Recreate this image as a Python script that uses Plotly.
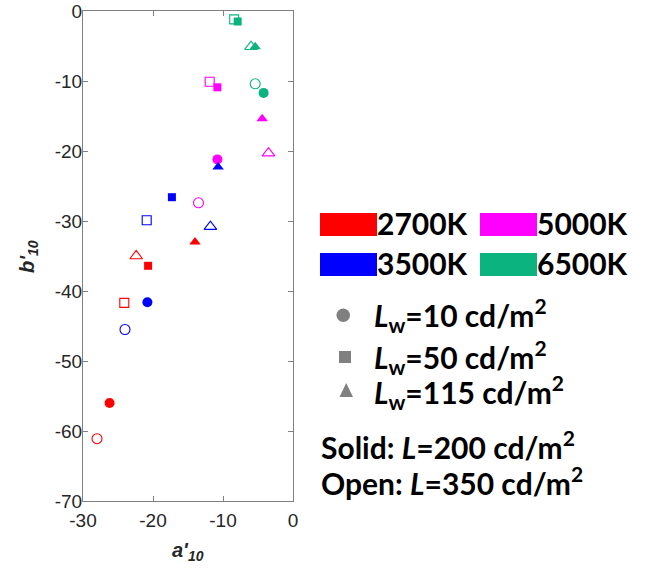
import plotly.graph_objects as go

# ---------------- data ----------------
cct_labels = ["2700K", "3500K", "5000K", "6500K"]
cct_colors = ["#ff0000", "#0000ff", "#ff00ff", "#0bb37f"]

# Solid markers: L = 200 cd/m2
solid_circle_a = [-26.2, -20.8, -10.8, -4.2]
solid_circle_b = [-56.0, -41.6, -21.2, -11.7]
solid_square_a = [-20.7, -17.3, -10.8, -7.9]
solid_square_b = [-36.4, -26.6, -10.9, -1.5]
solid_tri_a = [-14.0, -10.7, -4.4, -5.4]
solid_tri_b = [-33.0, -22.3, -15.4, -5.1]

# Open markers: L = 350 cd/m2
open_circle_a = [-28.0, -24.0, -13.5, -5.4]
open_circle_b = [-61.1, -45.5, -27.4, -10.4]
open_square_a = [-24.1, -20.9, -11.9, -8.4]
open_square_b = [-41.7, -29.9, -10.1, -1.2]
open_tri_a = [-22.4, -11.8, -3.5, -6.0]
open_tri_b = [-35.0, -30.8, -20.3, -5.1]

x_ticks = [-30, -20, -10, 0]
x_tick_text = ["-30", "-20", "-10", "0"]
y_ticks = [0, -10, -20, -30, -40, -50, -60, -70]
y_tick_text = ["0", "-10", "-20", "-30", "-40", "-50", "-60", "-70"]

lw_labels = ["10", "50", "115"]
lum_labels = ["Solid: <i>L</i>=200 cd/m<sup>2</sup>", "Open: <i>L</i>=350 cd/m<sup>2</sup>"]

# ---------------- figure ----------------
W, H = 645, 571
ML, MR, MT, MB = 83, 10, 11, 70
PW, PH = W - ML - MR, H - MT - MB

def px(x):
    return (x - ML) / PW

def py(y):
    return (MT + PH - y) / PH

fig = go.Figure()

series = [
    (solid_circle_a, solid_circle_b, "circle", 10, True),
    (solid_square_a, solid_square_b, "square", 8, True),
    (solid_tri_a, solid_tri_b, "triangle-up", 10, True),
    (open_circle_a, open_circle_b, "circle-open", 10, False),
    (open_square_a, open_square_b, "square-open", 9, False),
    (open_tri_a, open_tri_b, "triangle-up-open", 11, False),
]
for xa, yb, sym, size, solid in series:
    fig.add_trace(go.Scatter(
        x=xa, y=yb, mode="markers", showlegend=False,
        marker=dict(symbol=sym, size=size, color=cct_colors,
                    line=dict(width=0 if solid else 1.1, color=cct_colors)),
    ))

axis_common = dict(
    showgrid=False, zeroline=False, showline=True, linecolor="#808080", linewidth=1,
    mirror="ticks", ticks="inside", ticklen=5, tickcolor="#808080", automargin=False,
    tickfont=dict(family="Liberation Sans, Arial, sans-serif", size=19, color="#262626"),
)
fig.update_xaxes(range=[-30, 0], tickvals=x_ticks, ticktext=x_tick_text,
                 domain=[0, 210 / PW], ticklabelstandoff=2, **axis_common)
fig.update_yaxes(range=[-70, 0], tickvals=y_ticks, ticktext=y_tick_text,
                 ticklabelstandoff=-4, **axis_common)

shapes = []
annotations = []

# axis titles
annotations.append(dict(
    xref="paper", yref="paper", x=px(188), y=py(551), showarrow=False,
    text="<b><i>a'</i><sub><i>10</i></sub></b>",
    font=dict(family="Liberation Sans, Arial, sans-serif", size=20, color="#262626"),
    xanchor="center", yanchor="middle"))
annotations.append(dict(
    xref="paper", yref="paper", x=px(28), y=py(257), showarrow=False, textangle=-90,
    text="<b><i>b'</i><sub><i>10</i></sub></b>",
    font=dict(family="Liberation Sans, Arial, sans-serif", size=20, color="#262626"),
    xanchor="center", yanchor="middle"))

# colour legend (2 x 2)
legend_font = "Lato, Calibri, sans-serif"
rect_pos = [(320, 213), (320, 253), (480, 213), (480, 253)]
for (x0, y0), lab, col in zip(rect_pos, cct_labels, cct_colors):
    shapes.append(dict(type="rect", xref="paper", yref="paper",
                       x0=px(x0), x1=px(x0 + 57), y0=py(y0), y1=py(y0 + 23),
                       fillcolor=col, line=dict(width=0)))
    annotations.append(dict(
        xref="paper", yref="paper", x=px(x0 + 55), y=py(y0 + 10), showarrow=False,
        text="<b>%s</b>" % lab, xanchor="left", yanchor="middle",
        font=dict(family=legend_font, size=30, color="#000000")))

# marker legend
gray = "#808080"
shapes.append(dict(type="circle", xref="paper", yref="paper",
                   x0=px(336.5), x1=px(350), y0=py(308.5), y1=py(322),
                   fillcolor=gray, line=dict(width=0)))
shapes.append(dict(type="rect", xref="paper", yref="paper",
                   x0=px(339), x1=px(351), y0=py(351), y1=py(363),
                   fillcolor=gray, line=dict(width=0)))
shapes.append(dict(type="path", xref="paper", yref="paper",
                   path="M %f,%f L %f,%f L %f,%f Z" % (px(339.5), py(397), px(353), py(397), px(346.2), py(383)),
                   fillcolor=gray, line=dict(width=0)))

lw_y = [315, 357, 392]
for lab, yy in zip(lw_labels, lw_y):
    annotations.append(dict(
        xref="paper", yref="paper", x=px(372), y=py(yy), showarrow=False,
        text="<b><i>L</i><sub>w</sub>=%s cd/m<sup>2</sup></b>" % lab,
        xanchor="left", yanchor="middle",
        font=dict(family=legend_font, size=30, color="#000000")))

for lab, yy in zip(lum_labels, [445, 481]):
    annotations.append(dict(
        xref="paper", yref="paper", x=px(319), y=py(yy), showarrow=False,
        text="<b>%s</b>" % lab, xanchor="left", yanchor="middle",
        font=dict(family=legend_font, size=30, color="#000000")))

fig.update_layout(
    width=W, height=H, margin=dict(l=ML, r=MR, t=MT, b=MB),
    paper_bgcolor="white", plot_bgcolor="white",
    shapes=shapes, annotations=annotations,
)

fig.write_html("out.html")
